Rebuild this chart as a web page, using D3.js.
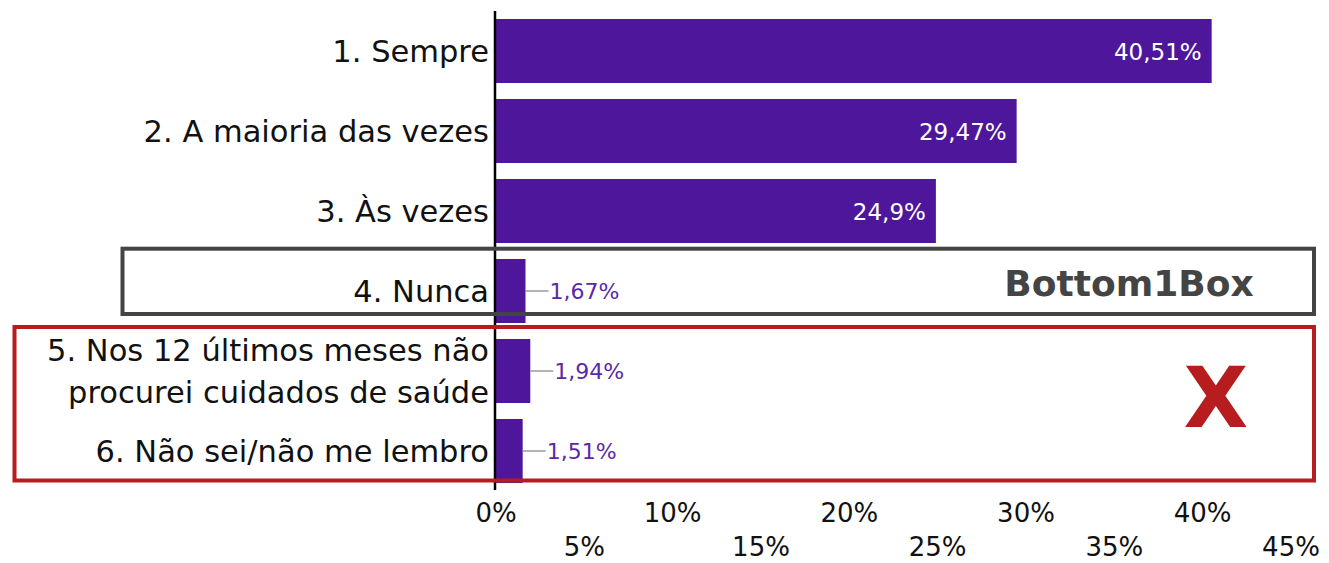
<!DOCTYPE html>
<html>
<head>
<meta charset="utf-8">
<script src="https://cdn.jsdelivr.net/npm/d3@7"></script>
<style>
  html, body { margin: 0; padding: 0; background: #fff; }
  svg { display: block; font-family: "DejaVu Sans", sans-serif; }
</style>
</head>
<body>
<svg id="chart" width="1329" height="563"></svg>
<script>
// ---- data ----
const categories = [
  "1. Sempre",
  "2. A maioria das vezes",
  "3. Às vezes",
  "4. Nunca",
  "5. Nos 12 últimos meses não\nprocurei cuidados de saúde",
  "6. Não sei/não me lembro"
];
const values = [40.51, 29.47, 24.9, 1.67, 1.94, 1.51];
const tickValues = [0, 5, 10, 15, 20, 25, 30, 35, 40, 45];
const tickLabels = ["0%", "5%", "10%", "15%", "20%", "25%", "30%", "35%", "40%", "45%"];
const boxGroups = [
  { label: "Bottom1Box", cats: ["4. Nunca"] },
  { label: "X", cats: ["5. Nos 12 últimos meses não\nprocurei cuidados de saúde", "6. Não sei/não me lembro"] }
];

// ---- layout ----
const svg = d3.select("#chart");
const barColor = "#4e179b";
const x = d3.scaleLinear().domain([0, 45]).range([496, 1291]);
const y = d3.scaleBand().domain(categories).range([11, 491]).paddingInner(0.2).paddingOuter(0.1);
const fmt = v => String(v).replace(".", ",") + "%";

// bars
svg.append("g").selectAll("rect").data(values).join("rect")
  .attr("x", x(0))
  .attr("y", (d, i) => y(categories[i]))
  .attr("width", d => x(d) - x(0))
  .attr("height", y.bandwidth())
  .attr("fill", barColor);

// value labels
const inside = d => d > 10;
const lab = svg.append("g");
values.forEach((v, i) => {
  const cy = y(categories[i]) + y.bandwidth() / 2;
  if (inside(v)) {
    lab.append("text").attr("x", x(v) - 10).attr("y", cy).attr("dy", "0.38em")
      .attr("text-anchor", "end").attr("fill", "#fff").attr("font-size", 23)
      .text(fmt(v));
  } else {
    lab.append("line").attr("x1", x(v)).attr("x2", x(v) + 23).attr("y1", cy).attr("y2", cy)
      .attr("stroke", "#9a9a9a").attr("stroke-width", 1.5);
    lab.append("text").attr("x", x(v) + 24).attr("y", cy).attr("dy", "0.36em")
      .attr("fill", "#5a2aa6").attr("font-size", 22)
      .text(fmt(v));
  }
});

// category labels
const cl = svg.append("g");
categories.forEach(c => {
  const cy = y(c) + y.bandwidth() / 2;
  const lines = c.split("\n");
  const lh = 42.6;
  const t = cl.append("text").attr("text-anchor", "end").attr("fill", "#111").attr("font-size", 30.5);
  lines.forEach((ln, k) => {
    t.append("tspan").attr("x", 489)
      .attr("y", cy + (k - (lines.length - 1) / 2) * lh)
      .attr("dy", "0.36em").text(ln);
  });
});

// x axis tick labels (alternating rows)
const ax = svg.append("g");
tickValues.forEach((t, i) => {
  ax.append("text").attr("x", x(t)).attr("y", i % 2 === 0 ? 522 : 556)
    .attr("text-anchor", "middle").attr("fill", "#111").attr("font-size", 26)
    .text(tickLabels[i]);
});

// vertical axis line
svg.append("line").attr("x1", 495).attr("x2", 495).attr("y1", 11).attr("y2", 490)
  .attr("stroke", "#000").attr("stroke-width", 2.5);

// group boxes
const g0 = boxGroups[0], g1 = boxGroups[1];
const b0top = y(g0.cats[0]) - 10.3, b0bot = y(g0.cats[0]) + 55;
svg.append("rect").attr("x", 122.5).attr("y", b0top).attr("width", 1314 - 122.5).attr("height", b0bot - b0top)
  .attr("fill", "none").attr("stroke", "#444").attr("stroke-width", 4);
svg.append("text").attr("x", 1129).attr("y", 296).attr("text-anchor", "middle")
  .attr("font-weight", "bold").attr("font-size", 36).attr("fill", "#444").text(g0.label);

const b1top = y(g1.cats[0]) - 12, b1bot = y(g1.cats[1]) + y.bandwidth() - 2.5;
svg.append("rect").attr("x", 14.5).attr("y", b1top).attr("width", 1314 - 14.5).attr("height", b1bot - b1top)
  .attr("fill", "none").attr("stroke", "#b71c1e").attr("stroke-width", 4);
svg.append("text").attr("x", 1216).attr("y", 427).attr("text-anchor", "middle")
  .attr("font-weight", "bold").attr("font-size", 84).attr("fill", "#b71c1e").text(g1.label);
</script>
</body>
</html>
